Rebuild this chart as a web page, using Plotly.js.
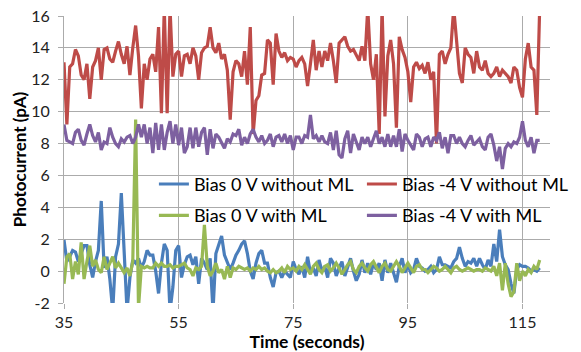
<!DOCTYPE html>
<html>
<head>
<meta charset="utf-8">
<script src="https://cdn.plot.ly/plotly-3.0.1.min.js"></script>
<style>html,body{margin:0;padding:0;background:#fff;}#chart{width:581px;height:352px;}</style>
</head>
<body>
<div id="chart"></div>
<script>
// Sampling: first sample time and step (seconds)
const timeStart = 35;
const timeStep = 0.5;

const seriesNames = ["Bias 0 V without ML", "Bias -4 V without ML", "Bias 0 V with ML", "Bias -4 V with ML"];

const bias0NoML = [
  1.95, 0.6, 0.9, 1.3, 1.2, 0.6, 1.1, 1.6, 1.6, 0.4, -0.4, 0.6, 1.3, 4.4, 0.2, 0.9, -0.5, -2.5, 0.9, 1.7, 4.9, 0.5, -2.5, -0.4, 0.7, 0.5, 0.8, 0.2, 0.6, 1.3, 1.0, 1.0, 0.0, -1.4, 0.5, 1.7, 1.3, -2.5, -1.0, 1.3, 1.6, -0.4, 0.4,
  0.9, 1.0, 0.4, 0.9, -0.8, 0.8, 0.5, 0.1, 0.8, -2.5, 1.1, 1.7, 2.2, 1.0, 0.6, 0.1, 0.5, 1.0, 1.3, 1.7, 1.9, 1.1, 0.0, -0.5, 0.5, 1.1, 1.3, 0.5, 0.5, -0.4, -1.0, -0.1, 0.0, -0.4, 0.0, -0.2, -0.4, 0.6, 0.1, -0.2, 0.3,
  -0.4, 0.9, -0.1, 0.2, -0.3, 0.7, 0.0, 0.3, -0.4, 0.8, 0.5, -0.3, 0.2, 0.6, -0.3, 0.3, 0.8, 0.0, -0.6, -0.2, 0.7, -0.1, 0.5, -0.2, 0.5, 0.1, 0.5, -0.6, 0.7, -0.1, 0.5, -0.1, -0.7, 0.3, 0.8, -0.1, 0.4, -0.1, 0.1, 0.8, 0.3,
  0.2, 0.0, 0.1, 0.3, -0.1, 0.1, 0.9, 0.4, 0.4, 0.3, 0.2, 0.6, 0.8, 1.5, 0.8, 0.3, 0.6, 0.5, 0.8, 0.3, 0.8, 0.4, 0.1, 0.7, 0.3, 1.7, 0.6, 2.6, 0.9, 0.4, 0.1, -0.8, -1.4, 0.1, 0.4, 0.3, 0.3, 0.2, 0.0, 0.1, 0.0, 0.2
];

const biasM4NoML = [
  13.1, 9.2, 12.8, 13.0, 13.9, 13.5, 12.3, 12.0, 13.0, 10.8, 12.8, 13.2, 14.0, 12.0, 13.9, 14.0, 13.3, 13.1, 13.8, 14.4, 13.6, 13.0, 14.1, 12.3, 14.0, 15.4, 13.5, 10.2, 13.0, 12.0, 13.3, 13.6, 12.5, 15.3, 9.9, 16.5, 9.9, 16.5, 12.2, 13.6, 13.8, 12.2, 13.5,
  13.6, 13.0, 14.0, 13.5, 12.0, 13.7, 14.0, 14.1, 15.3, 14.0, 13.7, 14.3, 13.3, 13.6, 12.6,
  9.5, 12.5, 13.2, 13.0, 12.2, 13.8, 11.7, 15.3, 8.6, 10.7, 11.0, 12.3, 12.4, 14.5, 14.3, 11.7, 14.9, 13.8, 13.4, 13.7, 13.2, 13.4, 13.3, 12.8, 13.2, 13.4, 13.0, 11.6, 13.0, 14.5, 12.6, 13.8, 12.8, 13.8, 13.2, 14.3, 13.2, 11.8, 14.3, 14.5, 14.7, 14.1, 13.8, 13.9, 13.5, 13.2, 14.1, 13.2,
  16.5, 13.0, 12.0, 13.6, 8.6, 16.5, 9.7, 13.5, 14.5, 13.0, 9.0, 14.7, 13.9, 13.4, 12.5, 10.6, 12.8, 13.1, 12.7, 12.9, 12.4, 13.1, 12.0, 12.5, 8.0, 13.6, 13.8, 13.0, 13.6, 14.0, 16.5, 14.2, 12.4, 11.8, 14.0, 13.6, 13.4, 12.4, 13.8, 12.8, 12.6, 13.2, 12.4, 12.2, 12.4, 12.8, 12.2, 12.6, 12.4, 12.2, 11.8, 12.8, 12.6, 11.5, 10.9, 13.3, 14.3, 12.8, 12.6, 9.8, 16.5
];

const bias0ML = [
  -0.8, 0.9, 1.1, -0.5, 0.6, -0.2, 1.8, -0.5, 0.6, 1.6, 0.3, 0.7, 0.1, -0.1, 0.9, 0.1, 0.5, 0.9, 0.2, 0.5, 0.2, -0.1, 0.2, -0.3, 0.6, 9.5, -2.3, 0.3, 0.2, 0.3, 0.2, 0.2, 0.5, 0.3, 0.5, 0.3, 0.3, 0.4, 0.2, 0.3, 0.3, 0.4, 0.5,
  0.2, 0.1, -0.3, 0.2, 0.1, 0.3, 2.9, 0.3, -0.3, 0.0, 0.5, -0.1, 0.1, -0.5, 0.3, -0.4, 0.2, 0.1, 0.3, 0.2, 0.1, 0.2, 0.0, 0.2, 0.1, 0.3, 0.1, 0.2, 0.0, -0.1, 0.1, -0.1, 0.0, 0.2, -0.1, 0.3, 0.1, 0.2, 0.0, 0.3, 0.1,
  0.4, 0.1, -0.2, 0.3, 0.5, 0.1, -0.1, 0.3, 0.4, 0.0, 0.2, 0.5, 0.2, -0.2, 0.1, 0.4, 0.6, 0.1, -0.1, 0.3, 0.5, 0.2, 0.0, 0.4, 0.6, 0.2, -0.1, 0.3, 0.5, 0.1, 0.0, 0.3, 0.6, 0.3, -0.1, 0.2, 0.5, 0.2, -0.1, 0.3, 0.4, 0.1,
  0.1, -0.1, 0.1, 0.3, 0.2, 0.0, 0.1, 0.3, 0.1, -0.1, 0.2, 0.3, 0.1, 0.0, 0.1, 0.2, 0.1, 0.0, 0.1, 0.1, 0.0, 0.2, 0.1, 0.0, 0.3, -0.3, 0.5, -1.2, 0.5, -0.8, -1.6, -1.3, 0.5, -0.6, 0.0, -0.3, 0.1, -0.1, 0.3, 0.1, 0.7
];

const biasM4ML = [
  9.2, 8.2, 8.1, 8.0, 8.7, 8.9, 8.2, 7.9, 8.6, 9.2, 8.5, 8.1, 8.7, 7.6, 8.1, 8.0, 9.0, 8.4, 8.0, 7.8, 8.3, 8.1, 8.4, 8.5, 8.0, 8.4, 9.2, 8.4, 9.2, 8.0, 9.0, 7.4, 9.3, 7.6, 9.2, 7.6, 8.7, 9.4, 8.0, 9.2, 7.9, 9.0, 7.4,
  7.8, 9.0, 7.7, 9.0, 7.8, 8.7, 9.0, 7.3, 8.9, 7.7, 8.6, 8.4, 8.0, 7.7, 8.3, 8.1, 8.6, 8.5, 8.9, 7.9, 8.4, 8.0, 8.6, 8.9, 8.4, 8.1, 8.5, 8.0, 8.2, 8.6, 7.8, 8.4, 8.5, 8.1, 8.6, 8.0, 8.5, 7.6, 8.4,
  8.4, 8.0, 8.5, 8.4, 9.8, 8.3, 8.5, 8.1, 8.5, 8.1, 8.0, 8.7, 7.6, 8.8, 7.3, 7.1, 8.3, 8.8, 7.4, 8.6, 8.1, 7.6, 8.4, 8.0, 8.4, 7.8, 8.3, 8.8, 8.0, 8.4, 7.8, 8.6, 7.8, 8.5, 7.8, 8.9, 7.5, 8.6, 8.2, 7.9, 7.6, 8.6,
  8.4, 7.8, 8.3, 8.4, 7.8, 8.4, 8.2, 8.7, 7.7, 8.4, 7.4, 8.5, 8.5, 8.0, 8.4, 8.0, 7.8, 8.2, 8.5, 7.9, 8.1, 8.3, 7.8, 7.6, 8.4, 8.6, 7.9, 6.9, 7.8, 6.4, 7.7, 8.0, 7.8, 8.1, 8.0, 8.4, 9.4, 8.2, 7.8, 8.4, 7.4, 8.2, 8.2
];

const xTickVals = [35, 55, 75, 95, 115];
const yTickVals = [-2, 0, 2, 4, 6, 8, 10, 12, 14, 16];

const colors = ["#4A7EBB", "#BE4B48", "#98B954", "#7D60A0"];
const FONT = "Lato, 'Liberation Sans', sans-serif";

function mk(y, i, legendId) {
  return {
    type: "scatter", mode: "lines",
    x0: timeStart, dx: timeStep, y: y,
    name: seriesNames[i],
    legend: legendId, legendgroup: "g" + i,
    line: {color: colors[i], width: 3.2}
  };
}

const data = [
  mk(bias0NoML, 0, "legend"),
  mk(biasM4NoML, 1, "legend2"),
  mk(bias0ML, 2, "legend"),
  mk(biasM4ML, 3, "legend2")
];

const gridC = "#ABABAB";
const legendCommon = {
  bgcolor: "rgba(0,0,0,0)", borderwidth: 0,
  font: {family: FONT, size: 18, color: "#000"},
  traceorder: "grouped", tracegroupgap: 5,
  xanchor: "left", yanchor: "top"
};

const layout = {
  width: 581, height: 352,
  margin: {l: 64, r: 7, t: 16, b: 49},
  paper_bgcolor: "#fff", plot_bgcolor: "#fff",
  showlegend: true,
  font: {family: FONT, color: "#000"},
  xaxis: {
    range: [35, 119.8], tickvals: xTickVals, ticktext: xTickVals.map(String),
    showgrid: true, gridcolor: gridC, gridwidth: 1,
    zeroline: false, showline: false,
    ticks: "outside", ticklen: 5, tickcolor: gridC,
    tickfont: {family: FONT, size: 16, color: "#222"},
    title: {text: "Time (seconds)", font: {family: FONT, size: 17.5, color: "#000", weight: "bold"}, standoff: 4}
  },
  yaxis: {
    range: [-2, 16], tickvals: yTickVals, ticktext: yTickVals.map(String),
    showgrid: true, gridcolor: gridC, gridwidth: 1,
    zeroline: false, showline: true, linecolor: gridC, linewidth: 1,
    ticks: "outside", ticklen: 5, tickcolor: gridC, ticklabelstandoff: 5,
    tickfont: {family: FONT, size: 16, color: "#222"},
    title: {text: "Photocurrent (pA)", font: {family: FONT, size: 17, color: "#000", weight: "bold"}, standoff: 0}
  },
  legend: Object.assign({}, legendCommon, {x: 0.185, y: 0.478}),
  legend2: Object.assign({}, legendCommon, {x: 0.613, y: 0.478})
};

Plotly.newPlot("chart", data, layout, {displayModeBar: false, staticPlot: true});
</script>
</body>
</html>
